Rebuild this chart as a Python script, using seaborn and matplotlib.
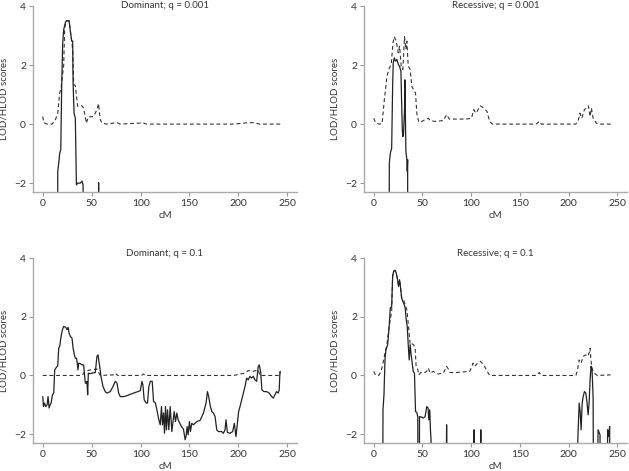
import matplotlib
matplotlib.use("Agg")
import matplotlib.pyplot as plt
import seaborn as sns

# ---- data (cM, score); -10 means below the axis ----
dom001_lod_x = [0, 1, 4.4, 9.5, 13, 15.3, 17.3, 18.7, 20, 21.4, 22.4, 24.1, 26.9, 28.2, 29.6, 30.6,
                31.6, 33.3, 35.7, 40.1, 41.8, 44.6, 46.6, 52, 55.4, 57, 58.8, 60.5, 65.6, 75.9, 79,
                103, 106, 195, 208, 215, 222, 243]
dom001_lod_y = [0.26, 0.05, 0, 0, 0.15, 0.37, 1.05, 1.22, 1.6, 2.0, 3.25, 3.5, 3.5, 3.15, 2.81, 2.5,
                1.34, 1.3, 0.6, 0.62, 0.54, 0.03, 0.24, 0.26, 0.49, 0.69, 0.15, 0.03, 0, 0.05, 0,
                0.04, 0, 0, 0.04, 0.05, 0, 0]
dom001_hlod_x = [15.2, 15.3, 16.3, 17.3, 18.4, 19.4, 20.4, 21.4, 23.1, 24.1, 26.9, 28.2, 29.6, 30.6,
                 31, 32, 33.3, 34.4, 35.7, 38.4, 40.1, 41.2, 41.8, 57.0, 57.1, 57.2]
dom001_hlod_y = [-10, -1.6, -1.33, -0.99, -0.87, 1.39, 2.76, 3.2, 3.44, 3.5, 3.5, 3.15, 2.81, 2.81,
                 1.39, 0.37, 0.2, -2.06, -2.0, -2.0, -1.93, -2.06, -10, -10, -1.98, -10]

rec001_lod_x = [0, 1.7, 5.1, 8.5, 10.9, 13.6, 16, 18, 19.7, 21.1, 23.1, 25.2, 26.5, 28.2, 29.9, 31.6,
                33, 34, 35.4, 37.4, 39.1, 40.8, 42.9, 44.2, 46.3, 49.3, 52.7, 56.1, 57.8, 62.9, 71.4,
                74.8, 77.6, 81.6, 95.2, 100.3, 102.7, 104.8, 106.1, 109.5, 113, 116.3, 119, 121.8,
                166.7, 170, 171.8, 207.5, 210.2, 211.6, 213.6, 216.3, 218.4, 220.4, 222.1, 223.5,
                225.2, 228.6, 231.3, 243.2]
rec001_lod_y = [0.2, 0.06, 0, 0.01, 0.83, 1.62, 1.9, 2.02, 2.75, 2.96, 2.81, 2.41, 2.64, 1.96, 1.85, 2.96,
                2.53, 2.81, 1.96, 1.85, 1.28, 1.17, 1.05, 0.37, 0.06, 0.09, 0.15, 0.2, 0.12, 0.09, 0.12,
                0.32, 0.17, 0.17, 0.17, 0.2, 0.49, 0.37, 0.43, 0.62, 0.54, 0.43, 0.09, 0,
                0, 0.09, 0, 0, 0.15, 0.37, 0.2, 0.49, 0.54, 0.62, 0.26, 0.54,
                0.2, 0.03, 0, 0]
rec001_hlod_x = [15.2, 16, 17, 18.4, 19.4, 20, 21.1, 22.4, 23.8, 25.2, 26.5, 27.9, 29.3, 29.9, 30.6,
                 31.6, 32.0, 33.0, 34.0, 34.4, 34.8, 35.0]
rec001_hlod_y = [-10, -1.33, -0.99, -0.82, 1.28, 2.07, 2.24, 2.13, 2.19, 2.02, 1.96, 1.79, -0.19, -0.42,
                 -0.31, 0.49, 1.5, -0.93, -1.2, -1.6, -1.2, -10]

dom01_lod_x = [0, 40, 43.5, 48.6, 55.4, 58.8, 72.4, 74.1, 76.5, 101, 103, 105, 195, 206.8, 210.2,
               215.3, 220.4, 222, 242.5, 242.8]
dom01_lod_y = [0, 0, 0.14, 0.19, 0.22, 0, 0.02, 0.08, 0, 0, 0.05, 0, 0, 0.08, 0.17,
               0.14, 0.19, 0, 0, 0.14]
dom01_hlod_x = [0, 0.7, 1.7, 3.1, 4.4, 5.4, 6.5, 7.5, 8.5, 9.9, 11.2, 12.2, 14, 15.3, 16.3, 17.3, 18.7,
                20.1, 21.4, 23.1, 24.1, 24.8, 25.9, 26.9, 28.2, 29.9, 31, 32.3, 33.3, 34.4, 35, 36,
                36.7, 38.4, 40.1, 41.8, 42.5, 43.5, 44.6, 45.2, 45.9, 46.6, 48, 50.3, 53.7, 55.4,
                56.5, 58.2, 59.5, 61.6, 63.9, 65.6, 69, 71.8, 74.1, 75.9, 77.6, 79.3, 82.7, 86, 92.9,
                99.7, 101.4, 102.4, 103.7, 105.8, 107.1, 108.5, 109.9, 111.9, 113.3, 115, 116.7,
                118.7, 120.1, 121.4, 122.4, 123.5, 124.5, 125.5, 126.5, 127.6, 128.9, 130.3, 132,
                133, 134.4, 135.7, 137.1, 138.4, 139.8, 141.8, 143.9, 145.6, 146.6, 147.6, 148.6,
                150, 151, 152.4, 154.1, 157.5, 160.9, 164.3, 167, 168.4, 169.7, 171.1, 172.8, 174.5,
                176.2, 177.9, 179.6, 183, 184.7, 186.4, 187.4, 188.8, 191.5, 194.2, 195.9, 197.6,
                199, 200.3, 201.7, 203.4, 205.1, 206.8, 208.5, 210.2, 211.9, 213.6, 215.3, 217,
                218.7, 220.4, 221.4, 222.8, 224.1, 226.2, 228.9, 231.6, 234, 235.7, 237.4, 239.1,
                240.8, 241.8, 242.5, 242.8]
dom01_hlod_y = [-0.72, -1.06, -0.94, -1.06, -1.0, -0.72, -1.11, -1.0, -0.94, -0.66, -0.6, 0.19, 0.28,
                0.33, 0.93, 0.99, 1.33, 1.56, 1.67, 1.65, 1.61, 1.56, 1.64, 1.44, 1.33, 1.27, 0.93,
                0.7, 0.59, 0.59, 0.48, 0.19, 0.42, 0.4, 0.36, 0.36, 0.08, -0.26, -0.26, -0.2, -0.66,
                0.08, 0.06, 0.08, 0.1, 0.65, 0.7, 0.31, -0.03, -0.38, -0.55, -0.6, -0.55, -0.38,
                -0.2, -0.26, -0.6, -0.72, -0.72, -0.69, -0.6, -0.52, -0.2, -0.32, -0.83, -0.94,
                -0.94, -0.38, -0.2, -0.2, -0.89, -0.92, -1.17, -1.51, -1.68, -1.06, -1.68, -1.28,
                -1.97, -1.06, -1.85, -1.17, -1.85, -1.06, -1.91, -1.63, -1.23, -1.57, -1.28, -1.51,
                -1.6, -1.74, -1.83, -2.19, -2.06, -1.74, -2.02, -1.57, -1.91, -1.63, -1.68, -1.57,
                -1.53, -1.28, -0.94, -0.55, -0.72, -1.0, -1.23, -1.28, -1.4, -1.85, -1.91, -1.91,
                -1.97, -1.85, -1.51, -1.94, -1.97, -1.91, -1.63, -2.08, -1.63, -1.23, -1.06, -0.83,
                -0.6, -0.38, -0.09, -0.15, -0.03, -0.09, -0.03, -0.15, -0.2, 0.31, 0.36, 0.14, -0.49,
                -0.55, -0.55, -0.6, -0.72, -0.77, -0.66, -0.55, -0.6, -0.49, 0.08, 0.14]

rec01_lod_x = [0, 1.7, 5.1, 7.5, 9.5, 11.9, 13.6, 15.3, 17, 18.4, 19.4, 20.4, 21.8, 23.1, 24.5, 25.5,
               26.5, 27.6, 28.6, 30.6, 32.3, 34, 35.7, 37.4, 39.1, 40.8, 42.5, 43.5, 44.9, 46.3,
               48.3, 51, 54.4, 56.1, 57.8, 61.2, 63.9, 66.3, 71.4, 74.8, 76.5, 78.2, 85, 98.6, 102,
               103.7, 107.1, 109.5, 113, 115.6, 119, 166.7, 170, 171.8, 207.5, 209.2, 210.9, 212.9,
               215, 217.7, 219.4, 221.1, 222.1, 223.1, 224.5, 226.2, 229.6, 243.2]
rec01_lod_y = [0.14, 0.02, 0, 0.14, 0.42, 0.82, 1.05, 1.56, 1.9, 2.2, 3.38, 3.55, 3.58, 3.49, 3.26, 3.03,
               3.26, 2.98, 2.64, 2.58, 2.41, 2.24, 1.67, 1.05, 1.08, 1.05, 0.93, 0.31, 0.25, 0.02,
               0.1, 0.08, 0.14, 0.25, 0.08, 0.14, 0.08, 0.05, 0.08, 0.31, 0.22, 0.1, 0.1, 0.14, 0.42,
               0.31, 0.44, 0.48, 0.36, 0.19, 0, 0, 0.1, 0, 0, 0.19, 0.53, 0.42,
               0.65, 0.7, 0.65, 0.76, 0.93, 0.48, 0.19, 0.08, 0, 0.02]
rec01_hlod_x = [8.5, 9.5, 10.5, 11.6, 12.6, 14.3, 15.6, 17, 18.4, 19.4, 20.4, 21.8, 23.1, 24.5, 25.5,
                26.5, 27.6, 28.6, 29.9, 31.3, 32.3, 33.3, 34.4, 35.4, 36.4, 37.4, 38.4, 39.5, 40.5,
                41.8, 42.9, 44.2, 45.2, 46.3, 47, 49.3, 51, 52.7, 54.4, 55.8, 56.5, 57.5, 58.2, 58.8,
                61.2, 73.1, 74.8, 76.5, 101.4, 103, 104.4, 108.2, 109.9, 112.2, 207.5, 209.5, 210.9,
                211.9, 212.9, 214, 215, 216.3, 217.7, 219, 220.1, 221.1, 222.1, 223.1, 224.1, 225.2,
                226.2, 228.6, 230.3, 232.3, 234, 239.1, 240.1, 240.8, 241.5, 242.2, 242.9]
rec01_hlod_y = [-10, -1.17, -0.66, 0.59, 0.88, 1.05, 1.56, 2.3, 2.35, 3.38, 3.55, 3.58, 3.49, 3.26, 3.03,
                3.26, 2.98, 2.64, 2.52, 2.41, 2.3, 1.9, 1.67, 1.05, 0.53, 1.05, 0.7, 0.42, 0.14,
                0.08, -1.23, -1.26, -1.4, -10, -1.4, -1.42, -1.45, -1.4, -1.06, -1.11, -1.51, -1.17,
                -1.85, -2.19, -10, -10, -1.68, -10, -10, -1.85, -10, -10, -1.85, -10, -10, -2.19,
                -0.94, -1.23, -1.85, -0.94, -0.72, -0.55, -0.6, -0.94, -1.34, -0.94, -0.15, 0.31,
                0.19, -0.72, -10, -10, -1.85, -2.02, -10, -10, -1.85, -2.08, -1.91, -1.74, -10]

titles = ["Dominant; q = 0.001", "Recessive; q = 0.001", "Dominant; q = 0.1", "Recessive; q = 0.1"]
panels = [(dom001_hlod_x, dom001_hlod_y, dom001_lod_x, dom001_lod_y),
          (rec001_hlod_x, rec001_hlod_y, rec001_lod_x, rec001_lod_y),
          (dom01_hlod_x, dom01_hlod_y, dom01_lod_x, dom01_lod_y),
          (rec01_hlod_x, rec01_hlod_y, rec01_lod_x, rec01_lod_y)]
x_ticks = [0, 50, 100, 150, 200, 250]
y_ticks = [-2, 0, 2, 4]

sns.set_theme(style="ticks")
plt.rcParams['font.family'] = ['Lato', 'DejaVu Sans']
plt.rcParams['axes.unicode_minus'] = True

fig = plt.figure(figsize=(6.29, 4.71), dpi=100)
W, H = 629, 471
# axes boxes in pixels: left, top, right, bottom
boxes = [(33, 6, 297, 192), (364, 6, 627, 192), (33, 258, 297, 443), (364, 258, 627, 443)]
title_offset = [1.0, 1.0, 5, 5]

for i, (box, title, (hx, hy, lx, ly)) in enumerate(zip(boxes, titles, panels)):
    l, t, r, b = box
    ax = fig.add_axes([l / W, 1 - b / H, (r - l) / W, (b - t) / H])
    sns.lineplot(x=lx, y=ly, ax=ax, sort=False, estimator=None, color='#333333',
                 linewidth=0.8, linestyle=(0, (3.5, 2.5)))
    sns.lineplot(x=hx, y=hy, ax=ax, sort=False, estimator=None, color='#222222',
                 linewidth=0.9)
    ax.set_xlim(-10, 260)
    ax.set_ylim(-2.3, 4)
    ax.set_xticks(x_ticks)
    ax.set_yticks(y_ticks)
    ax.set_xticklabels([str(v) for v in x_ticks])
    ax.set_yticklabels(['\u22122', '0', '2', '4'])
    ax.tick_params(axis='both', direction='out', length=3, width=0.8, color='#999999',
                   labelsize=7.5, labelcolor='#333333', pad=2)
    sns.despine(ax=ax)
    for sp in ['left', 'bottom']:
        ax.spines[sp].set_color('#aaaaaa')
        ax.spines[sp].set_linewidth(1.0)
    ax.set_xlabel('cM', fontsize=7, color='#333333', labelpad=2)
    ax.set_ylabel('LOD/HLOD scores', fontsize=7, color='#333333', labelpad=4)
    ax.text(0.5, 1 + title_offset[i] / (b - t), title, transform=ax.transAxes,
            ha='center', va='center', fontsize=7, color='#333333')

fig.savefig('out.png', dpi=100)
